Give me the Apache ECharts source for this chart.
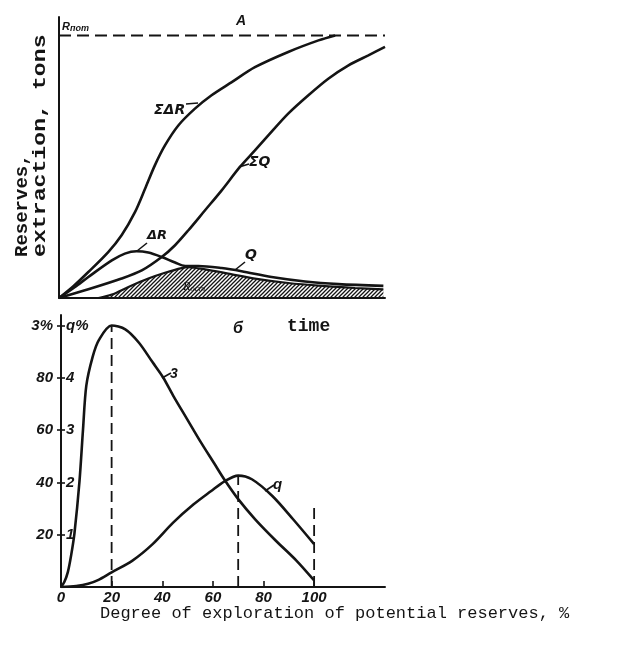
<!DOCTYPE html>
<html><head><meta charset="utf-8">
<script src="https://cdn.jsdelivr.net/npm/echarts@6/dist/echarts.min.js"></script>
<style>html,body{margin:0;padding:0;background:#fff}#c{width:634px;height:645px}</style>
</head><body><div id="c"></div>
<script>
// ---- Panel A (top): time vs reserves / extraction, R_pot = 100 ----
const sumDeltaR = [[0,0],[4.5,4.6],[9,9.9],[15.1,17.5],[19.2,23.9],[23.3,32.7],[26.4,41.6],[29.4,50.5],[32.5,58.1],[36.6,65.7],[41.7,72.1],[46.8,77.2],[53,82.2],[60.1,87.9],[70.3,93.7],[79.6,98.1],[84.7,100]];
const sumQ = [[0,0],[9,3.3],[19.2,7.4],[25.4,10.5],[31.5,15.6],[35.6,20.1],[39.7,25.8],[44.8,33.4],[49.9,41],[55.5,49.9],[60.1,56.2],[64.2,61.9],[70.3,70.2],[76.5,77.2],[82.6,83.5],[88.8,88.6],[94.9,92.4],[100,95.6]];
const deltaR = [[0,0],[4.9,4.2],[9,8],[16.2,14.3],[20.2,16.9],[23.8,17.8],[27.4,17.3],[31.5,15.6],[35.6,13.5],[38.7,12.2],[42.7,12.2],[49.9,11.4],[56,10.2],[65.2,8],[75.5,6.3],[85.7,5.3],[99.5,4.6]];
const Q = [[12.1,0],[16.2,1.3],[21.3,4.2],[27.4,7.4],[32.5,9.6],[37.6,11.4],[39.7,11.7],[44.8,10.9],[51.9,9.3],[60.1,7.4],[70.3,5.7],[80.6,4.6],[90.8,3.8],[99.5,3.3]];
const Rpot = [[0,100],[100,100]];

// ---- Panel B (bottom): degree of exploration (%) ----
const xTicksB = [0,20,40,60,80,100];
const yTicksZ = [20,40,60,80,100];          // outer axis, З %
const yTicksQ = [1,2,3,4,5];                // inner axis, q %
const curve3 = [[0,0],[1.3,1.9],[2.7,5.7],[4,12.1],[5.3,20.4],[7.3,40.4],[8.7,60.3],[10,77],[12.5,88],[15,94.5],[20,100],[25.4,98.5],[30.8,93.4],[36.2,85.9],[40.3,80.2],[44.3,73.2],[49.7,64.4],[55.1,55.6],[60.5,47.3],[64.6,41],[70,33.6],[76.8,25.8],[84.9,17.7],[93,10.1],[100,2.5]];
const qCurve = [[0,0],[6,0.02],[10.7,0.06],[14.6,0.13],[20,0.28],[28.1,0.5],[36.2,0.82],[44.3,1.23],[52.4,1.58],[59.2,1.83],[64.6,2.02],[70,2.13],[75.4,2.06],[83.5,1.74],[91.6,1.3],[100,0.82]];
const guideX = [20, 70, 100];
const guideTop = [100, 42.6, 32.2];

const INK = '#141414';
function hatch(){
  const c=document.createElement('canvas'); c.width=4; c.height=4;
  const g=c.getContext('2d'); g.strokeStyle=INK; g.lineWidth=1.3;
  g.beginPath(); g.moveTo(0,4); g.lineTo(4,0); g.moveTo(-1,1); g.lineTo(1,-1); g.moveTo(3,5); g.lineTo(5,3); g.stroke();
  return c;
}
const lbl = {fontFamily:'Liberation Sans', fontStyle:'italic', fontWeight:'bold', fontSize:15, color:INK};
const line = (name, data, xi, yi, extra) => Object.assign({
  type:'line', name, data, xAxisIndex:xi, yAxisIndex:yi, symbol:'none', smooth:0.3,
  lineStyle:{color:INK, width:2.6}, silent:true, animation:false
}, extra||{});

const series = [
  line('Q', Q, 0, 0, {areaStyle:{color:{image:hatch(), repeat:'repeat'}, opacity:1}, lineStyle:{color:INK,width:2.2}}),
  line('Rpot', Rpot, 0, 0, {smooth:false, lineStyle:{color:INK, width:2, type:[12,6]}}),
  line('ΣΔR', sumDeltaR, 0, 0),
  line('ΣQ', sumQ, 0, 0),
  line('ΔR', deltaR, 0, 0),
  line('З', curve3, 1, 1),
  line('q', qCurve, 1, 2),
];
guideX.forEach((x,i)=>series.push(line('guide'+i, [[x,0],[x,guideTop[i]]], 1, 1, {smooth:false, lineStyle:{color:INK,width:1.8,type:[11,6]}})));

const T = (text, x, y, font, extra) => Object.assign({type:'text', x, y, silent:true,
  style:{text, x:0, y:0, font, fill:INK, align:'left', verticalAlign:'middle', textAlign:'left', textVerticalAlign:'middle'}}, extra||{});
const L = (pts, w) => ({type:'polyline', silent:true, shape:{points:pts}, style:{stroke:INK, lineWidth:w||1.6, fill:null}});
const graphic = [
  T('Reserves,', 22, 257, 'bold 19px "Liberation Mono"', {rotation:Math.PI/2}),
  T('extraction, tons', 40, 257, 'bold 19px "Liberation Mono"', {rotation:Math.PI/2, scaleX:1.22}),
  {type:'text', x:62, y:27, silent:true, style:{text:'{a|R}{b|пот}', x:0, y:0, verticalAlign:'middle', textVerticalAlign:'middle',
     rich:{a:{font:'italic bold 11px "Liberation Sans"', fill:INK}, b:{font:'italic bold 9px "Liberation Sans"', fill:INK, padding:[3,0,0,0]}}}},
  T('A', 236, 21, 'italic bold 14px "Liberation Sans"'),
  T('ΣΔR', 154, 110, 'italic bold 14px "DejaVu Sans"'),
  L([[186,104],[198,103]]),
  T('ΣQ', 249, 162, 'italic bold 14px "DejaVu Sans"'),
  L([[239,167],[249,164]]),
  T('ΔR', 147, 236, 'italic bold 13px "DejaVu Sans"'),
  L([[137,251],[147,243]]),
  T('Q', 245, 255, 'italic bold 14px "DejaVu Sans"'),
  L([[235,270],[245,262]]),
  {type:'text', x:183, y:287, silent:true, style:{text:'{a|R}{b|ост}', x:0, y:0, verticalAlign:'middle', textVerticalAlign:'middle',
     rich:{a:{font:'italic 12px "Liberation Serif"', fill:INK, backgroundColor:'#fff'}, b:{font:'italic 9px "Liberation Serif"', fill:INK, padding:[3,0,0,0], backgroundColor:'#fff'}}}},
  T('б', 233, 329, 'italic bold 16px "Liberation Sans"'),
  T('time', 287, 326, 'bold 18px "Liberation Mono"'),
  T('3', 170, 374, 'italic bold 14px "Liberation Sans"'),
  L([[162,378],[171,373]]),
  T('q', 273, 485, 'italic bold 15px "Liberation Sans"'),
  L([[265,491],[274,485]]),
  T('Degree of exploration of potential reserves, %', 100, 613, '17px "Liberation Mono"'),
];

const axisLine = {show:true, onZero:false, lineStyle:{color:INK, width:2}};
const option = {
  backgroundColor:'#fff', animation:false,
  grid:[
    {left:59, top:17, width:326, height:281},
    {left:61, top:315, width:324, height:272}
  ],
  xAxis:[
    {type:'value', gridIndex:0, min:0, max:100, axisLine, axisTick:{show:false}, axisLabel:{show:false}, splitLine:{show:false}},
    {type:'value', gridIndex:1, min:0, max:128, interval:20, axisLine, splitLine:{show:false},
     axisTick:{show:true, inside:true, length:6, customValues:xTicksB.slice(1), lineStyle:{color:INK,width:1.6}},
     axisLabel:Object.assign({customValues:xTicksB, margin:3, formatter:v=>String(v)}, lbl)}
  ],
  yAxis:[
    {type:'value', gridIndex:0, min:0, max:107, axisLine, axisTick:{show:false}, axisLabel:{show:false}, splitLine:{show:false}},
    {type:'value', gridIndex:1, min:0, max:104, interval:20, position:'left', axisLine, splitLine:{show:false},
     axisTick:{show:true, length:4, customValues:yTicksZ, lineStyle:{color:INK,width:1.6}},
     axisLabel:Object.assign({customValues:yTicksZ, margin:8, formatter:v=>v===100?'3%':String(v)}, lbl)},
    {type:'value', gridIndex:1, min:0, max:5.2, interval:1, position:'left', axisLine:{show:false}, splitLine:{show:false},
     axisTick:{show:true, inside:true, length:4, customValues:yTicksQ, lineStyle:{color:INK,width:1.6}},
     axisLabel:Object.assign({customValues:yTicksQ, inside:true, margin:5, formatter:v=>v===5?'q%':String(v)}, lbl)}
  ],
  series, graphic
};
const chart = echarts.init(document.getElementById('c'), null, {renderer:'canvas'});
chart.setOption(option);
</script></body></html>
